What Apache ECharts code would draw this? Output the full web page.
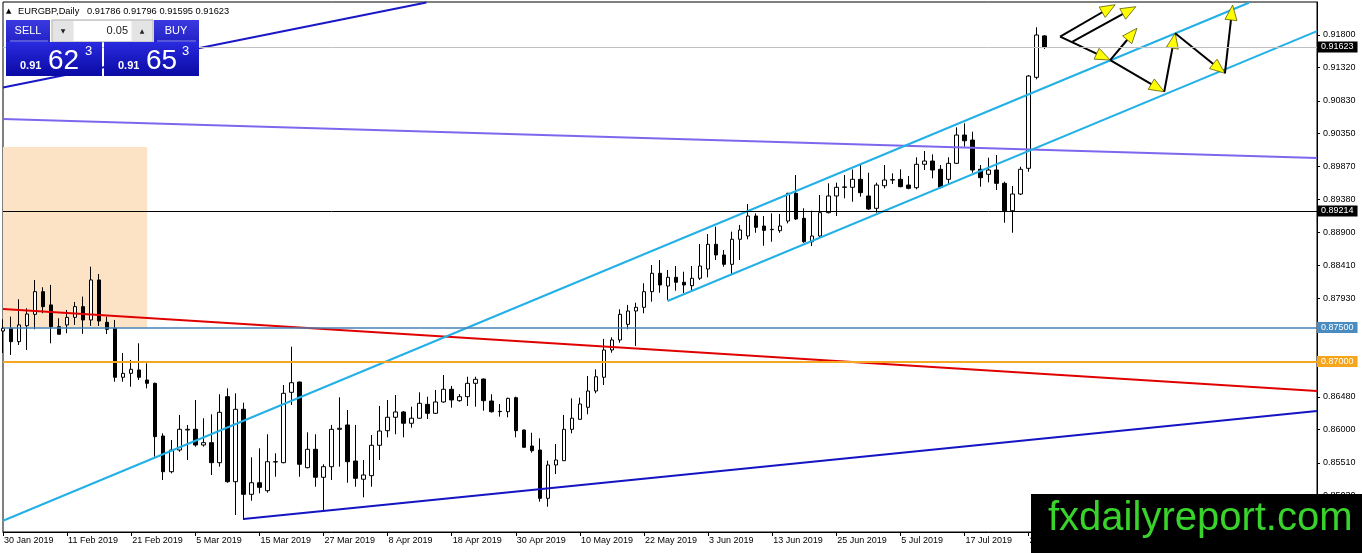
<!DOCTYPE html>
<html>
<head>
<meta charset="utf-8">
<script src="https://cdn.jsdelivr.net/npm/echarts@6/dist/echarts.min.js"></script>
<style>html,body{margin:0;padding:0;background:#fff;}#chart{width:1362px;height:553px;}</style>
</head>
<body>
<div id="chart"></div>
<script>
// ---------- DATA ----------
const dates = ['30 Jan 2019','31 Jan 2019','1 Feb 2019','4 Feb 2019','5 Feb 2019','6 Feb 2019','7 Feb 2019','8 Feb 2019','11 Feb 2019','12 Feb 2019','13 Feb 2019','14 Feb 2019','15 Feb 2019','18 Feb 2019','19 Feb 2019','20 Feb 2019','21 Feb 2019','22 Feb 2019','25 Feb 2019','26 Feb 2019','27 Feb 2019','28 Feb 2019','1 Mar 2019','4 Mar 2019','5 Mar 2019','6 Mar 2019','7 Mar 2019','8 Mar 2019','11 Mar 2019','12 Mar 2019','13 Mar 2019','14 Mar 2019','15 Mar 2019','18 Mar 2019','19 Mar 2019','20 Mar 2019','21 Mar 2019','22 Mar 2019','25 Mar 2019','26 Mar 2019','27 Mar 2019','28 Mar 2019','29 Mar 2019','1 Apr 2019','2 Apr 2019','3 Apr 2019','4 Apr 2019','5 Apr 2019','8 Apr 2019','9 Apr 2019','10 Apr 2019','11 Apr 2019','12 Apr 2019','15 Apr 2019','16 Apr 2019','17 Apr 2019','18 Apr 2019','19 Apr 2019','22 Apr 2019','23 Apr 2019','24 Apr 2019','25 Apr 2019','26 Apr 2019','29 Apr 2019','30 Apr 2019','1 May 2019','2 May 2019','3 May 2019','6 May 2019','7 May 2019','8 May 2019','9 May 2019','10 May 2019','13 May 2019','14 May 2019','15 May 2019','16 May 2019','17 May 2019','20 May 2019','21 May 2019','22 May 2019','23 May 2019','24 May 2019','27 May 2019','28 May 2019','29 May 2019','30 May 2019','31 May 2019','3 Jun 2019','4 Jun 2019','5 Jun 2019','6 Jun 2019','7 Jun 2019','10 Jun 2019','11 Jun 2019','12 Jun 2019','13 Jun 2019','14 Jun 2019','17 Jun 2019','18 Jun 2019','19 Jun 2019','20 Jun 2019','21 Jun 2019','24 Jun 2019','25 Jun 2019','26 Jun 2019','27 Jun 2019','28 Jun 2019','1 Jul 2019','2 Jul 2019','3 Jul 2019','4 Jul 2019','5 Jul 2019','8 Jul 2019','9 Jul 2019','10 Jul 2019','11 Jul 2019','12 Jul 2019','15 Jul 2019','16 Jul 2019','17 Jul 2019','18 Jul 2019','19 Jul 2019','22 Jul 2019','23 Jul 2019','24 Jul 2019','25 Jul 2019','26 Jul 2019','29 Jul 2019','30 Jul 2019','31 Jul 2019'];
const emptySlots = 34; // chart shift space on the right

const opens = [0.87449,0.87489,0.87292,0.87527,0.87694,0.88027,0.87832,0.87512,0.87538,0.87650,0.87807,0.87611,0.88199,0.87577,0.87489,0.86769,0.86827,0.86876,0.86729,0.86680,0.85906,0.85381,0.85700,0.85994,0.86004,0.85774,0.85808,0.85514,0.86484,0.85234,0.86298,0.85049,0.85219,0.85102,0.85524,0.85514,0.86548,0.86699,0.85440,0.85710,0.85299,0.85455,0.86004,0.86068,0.85538,0.85270,0.85323,0.85769,0.85984,0.86181,0.86259,0.86093,0.86167,0.86371,0.86239,0.86406,0.86592,0.86425,0.86484,0.86680,0.86743,0.86420,0.86263,0.86263,0.86469,0.85994,0.85759,0.85700,0.84990,0.85480,0.85543,0.86004,0.86151,0.86328,0.86567,0.86769,0.87170,0.87317,0.87547,0.87743,0.87797,0.88027,0.88297,0.88110,0.88238,0.88165,0.88115,0.88224,0.88360,0.88723,0.88566,0.88429,0.88797,0.88845,0.89139,0.88992,0.88938,0.88923,0.89065,0.89472,0.89105,0.88761,0.88845,0.89188,0.89433,0.89561,0.89561,0.89678,0.89433,0.89252,0.89584,0.89668,0.89678,0.89594,0.89555,0.89899,0.89947,0.89825,0.89678,0.89913,0.90329,0.90255,0.89825,0.89752,0.89815,0.89619,0.89217,0.89462,0.89840,0.91177,0.91786];
const closes = [0.87489,0.87292,0.87538,0.87699,0.88027,0.87807,0.87512,0.87401,0.87650,0.87807,0.87611,0.88199,0.87596,0.87474,0.86769,0.86827,0.86886,0.86769,0.86680,0.85896,0.85381,0.85700,0.86004,0.86004,0.85774,0.85808,0.85514,0.86254,0.85234,0.86298,0.85049,0.85219,0.85151,0.85528,0.85528,0.86533,0.86689,0.85490,0.85710,0.85299,0.85455,0.86004,0.86019,0.85528,0.85284,0.85333,0.85769,0.85979,0.86181,0.86259,0.86093,0.86167,0.86386,0.86239,0.86406,0.86592,0.86435,0.86484,0.86680,0.86739,0.86425,0.86263,0.86268,0.86459,0.85984,0.85740,0.85690,0.84990,0.85480,0.85553,0.86004,0.86167,0.86376,0.86567,0.86777,0.87170,0.87317,0.87694,0.87743,0.87797,0.88027,0.88297,0.88125,0.88238,0.88165,0.88125,0.88224,0.88404,0.88723,0.88566,0.88429,0.88797,0.88933,0.89139,0.88973,0.88928,0.88943,0.88992,0.89472,0.89095,0.88761,0.88845,0.89188,0.89433,0.89561,0.89566,0.89678,0.89482,0.89242,0.89594,0.89668,0.89673,0.89570,0.89546,0.89899,0.89947,0.89815,0.89561,0.89913,0.90329,0.90245,0.89815,0.89702,0.89815,0.89619,0.89217,0.89462,0.89825,0.91196,0.91799,0.91623];
const lows = [0.87126,0.87097,0.87244,0.87170,0.87474,0.87710,0.87268,0.87401,0.87416,0.87538,0.87407,0.87523,0.87523,0.87405,0.86704,0.86704,0.86630,0.86729,0.86606,0.85602,0.85259,0.85357,0.85675,0.85553,0.85749,0.85749,0.85332,0.85455,0.85219,0.84745,0.84671,0.84955,0.85064,0.85073,0.85308,0.85505,0.86362,0.85308,0.85431,0.85160,0.84794,0.85259,0.85455,0.85219,0.85160,0.85005,0.85160,0.85553,0.85887,0.85931,0.85887,0.86028,0.86161,0.86156,0.86229,0.86395,0.86322,0.86410,0.86347,0.86337,0.86278,0.86249,0.86190,0.86181,0.85887,0.85735,0.85661,0.84941,0.84867,0.85347,0.85538,0.85945,0.86141,0.86225,0.86533,0.86655,0.87130,0.87277,0.87474,0.87229,0.87710,0.87880,0.88012,0.87905,0.88041,0.88007,0.88051,0.88199,0.88238,0.88492,0.88394,0.88286,0.88492,0.88797,0.88893,0.88702,0.88761,0.88893,0.89031,0.89080,0.88746,0.88697,0.88825,0.89178,0.89139,0.89399,0.89349,0.89423,0.89227,0.89188,0.89546,0.89609,0.89561,0.89531,0.89531,0.89815,0.89693,0.89546,0.89609,0.89903,0.90157,0.89775,0.89570,0.89634,0.89521,0.89040,0.88893,0.89448,0.89790,0.91148,0.91595];
const highs = [0.87621,0.87660,0.87915,0.87783,0.88199,0.88092,0.88126,0.87636,0.87758,0.87876,0.87954,0.88394,0.88286,0.87660,0.87611,0.87126,0.87024,0.87268,0.86974,0.86690,0.85945,0.85847,0.86215,0.86068,0.86435,0.86167,0.86225,0.86519,0.86606,0.86533,0.86395,0.85593,0.85725,0.85931,0.85652,0.86655,0.87218,0.86705,0.85960,0.85931,0.85490,0.86068,0.86474,0.86288,0.86068,0.85553,0.85920,0.86347,0.86435,0.86508,0.86273,0.86337,0.86548,0.86484,0.86582,0.86802,0.86641,0.86523,0.86777,0.86777,0.86750,0.86519,0.86376,0.86469,0.86484,0.85999,0.85954,0.85872,0.85543,0.85788,0.86215,0.86459,0.86469,0.86788,0.86886,0.87333,0.87356,0.87768,0.87832,0.87865,0.88150,0.88419,0.88492,0.88345,0.88404,0.88320,0.88404,0.88727,0.88874,0.88982,0.88639,0.88909,0.89007,0.89315,0.89178,0.89139,0.89178,0.89168,0.89480,0.89741,0.89252,0.89217,0.89448,0.89619,0.89629,0.89741,0.89822,0.89903,0.89775,0.89629,0.89888,0.89766,0.89825,0.89726,0.90001,0.90094,0.90045,0.89888,0.90001,0.90442,0.90501,0.90378,0.89888,0.89996,0.90035,0.89643,0.89580,0.89863,0.91211,0.91912,0.91796];

// price axis tick labels
const yTicks = [0.91800,0.91320,0.90830,0.90350,0.89870,0.89380,0.88900,0.88410,0.87930,0.87450,0.86970,0.86480,0.86000,0.85510,0.85030];
const yMin = 0.84495, yMax = 0.92284;

// horizontal levels: bid line, support, round levels
const levelPrices = [0.91623, 0.89214, 0.87500, 0.87000];

// trend lines: [barIndex1, price1, barIndex2, price2]
const blueTopLine   = [0, 0.91027, 52.84, 0.92276];
const purpleLine    = [0, 0.90564, 164, 0.89991];
const redLine       = [0, 0.87772, 164, 0.86567];
const cyanUpper     = [0, 0.84661, 155.5, 0.92273];
const cyanLower     = [82.94, 0.87890, 164, 0.91857];
const blueBottom    = [30, 0.84686, 164, 0.86273];
// shaded zone [barIndex1, topPrice, barIndex2, bottomPrice]
const zoneRect = [0, 0.90153, 18, 0.87500];
// projection arrows [fromIndex, fromPrice, toIndex, toPrice]
const arrows = [
  [131.94, 0.91774, 138.81, 0.92244],
  [133.49, 0.91700, 141.39, 0.92215],
  [131.94, 0.91774, 138.19, 0.91431],
  [138.19, 0.91431, 141.52, 0.91897],
  [138.19, 0.91431, 144.93, 0.90965],
  [144.93, 0.90965, 146.30, 0.91824],
  [146.30, 0.91824, 152.51, 0.91236],
  [152.51, 0.91236, 153.47, 0.92239]
];

// ---------- CHART ----------
const FONT = '"Liberation Sans", Arial, sans-serif';
const categories = dates.concat(new Array(emptySlots).fill(''));
const candleData = opens.map((o, i) => [o, closes[i], lows[i], highs[i]]);

function trend(name, seg, color, width) {
  return {
    name, type: 'line', xAxisIndex: 1, yAxisIndex: 0,
    data: [[seg[0], seg[1]], [seg[2], seg[3]]],
    symbol: 'none', silent: true, z: 3,
    lineStyle: { color, width }
  };
}
function levelLabel(val, bg) {
  return {
    show: true, position: 'end', distance: 0,
    formatter: () => val.toFixed(5),
    color: '#fff', backgroundColor: bg, padding: [1, 4, 1, 4],
    fontSize: 9, lineHeight: 9, fontFamily: FONT
  };
}

const chart = echarts.init(document.getElementById('chart'), null, { renderer: 'canvas' });

const blueGrad = () => new echarts.graphic.LinearGradient(0, 0, 0, 1, [
  { offset: 0, color: '#2a2ae0' }, { offset: 1, color: '#0a0aa4' }]);
const btnGrad = () => new echarts.graphic.LinearGradient(0, 0, 0, 1, [
  { offset: 0, color: '#3a3ae0' }, { offset: 1, color: '#2222c6' }]);

const option = {
  animation: false,
  backgroundColor: '#ffffff',
  grid: {
    left: 3, right: 45, top: 2, bottom: 21,
    show: true, borderColor: '#000', borderWidth: 1,
    containLabel: false, outerBoundsMode: 'none'
  },
  xAxis: [{
    type: 'category', data: categories, boundaryGap: false,
    axisLine: { show: true, onZero: false, lineStyle: { color: '#000', width: 1 } },
    axisTick: { show: true, interval: 7, length: 4, lineStyle: { color: '#000' } },
    axisLabel: { interval: 7, align: 'left', fontSize: 9, color: '#000', margin: 4, fontFamily: FONT, padding: [0, 0, 0, 1] },
    splitLine: { show: false }
  }, {
    type: 'value', min: 0, max: categories.length - 1, show: false,
    axisLine: { onZero: false }
  }],
  yAxis: [{
    type: 'value', position: 'right', min: yMin, max: yMax, scale: true,
    splitLine: { show: false },
    axisLine: { show: true, onZero: false, lineStyle: { color: '#000', width: 1 } },
    axisTick: { show: true, inside: false, length: 3, customValues: yTicks, lineStyle: { color: '#000' } },
    axisLabel: { customValues: yTicks, formatter: v => Number(v).toFixed(5), fontSize: 9, color: '#000', margin: 6, fontFamily: FONT }
  }],
  series: [
    {
      name: 'zone', type: 'custom', xAxisIndex: 1, yAxisIndex: 0, z: 1, silent: true,
      data: [zoneRect], encode: { x: [0, 2], y: [1, 3] },
      renderItem: (params, api) => {
        const a = api.coord([api.value(0), api.value(1)]);
        const b = api.coord([api.value(2), api.value(3)]);
        return { type: 'rect', shape: { x: a[0], y: a[1], width: b[0] - a[0], height: b[1] - a[1] },
                 style: { fill: '#fde3c6' } };
      }
    },
    {
      name: 'EURGBP', type: 'candlestick', data: candleData, z: 2, barWidth: 4, silent: true,
      itemStyle: { color: '#ffffff', color0: '#000000', borderColor: '#000000', borderColor0: '#000000', borderWidth: 1 }
    },
    trend('blueTop', blueTopLine, '#1818c8', 2),
    Object.assign(trend('purple', purpleLine, '#7b68ee', 2), {
      markLine: {
        symbol: 'none', silent: true, animation: false, precision: 5,
        data: [
          { yAxis: levelPrices[0], lineStyle: { color: '#c0c0c0', width: 1, type: 'solid' }, label: levelLabel(levelPrices[0], '#000000') },
          { yAxis: levelPrices[1], lineStyle: { color: '#000000', width: 1, type: 'solid' }, label: levelLabel(levelPrices[1], '#000000') },
          { yAxis: levelPrices[2], lineStyle: { color: '#4682b4', width: 1.5, type: 'solid' }, label: levelLabel(levelPrices[2], '#4a8cc0') },
          { yAxis: levelPrices[3], lineStyle: { color: '#f5a623', width: 2, type: 'solid' }, label: levelLabel(levelPrices[3], '#f7a51c') }
        ]
      }
    }),
    trend('red', redLine, '#e10000', 2),
    trend('cyanUpper', cyanUpper, '#22b0e6', 2),
    trend('cyanLower', cyanLower, '#22b0e6', 2),
    trend('blueBottom', blueBottom, '#1414c4', 2),
    {
      name: 'arrows', type: 'custom', xAxisIndex: 1, yAxisIndex: 0, z: 4, silent: true,
      data: arrows, encode: { x: [0, 2], y: [1, 3] },
      renderItem: (params, api) => {
        const p1 = api.coord([api.value(0), api.value(1)]);
        const p2 = api.coord([api.value(2), api.value(3)]);
        const dx = p2[0] - p1[0], dy = p2[1] - p1[1];
        const len = Math.hypot(dx, dy) || 1;
        const ux = dx / len, uy = dy / len;
        const hl = 15, hw = 6;
        const bx = p2[0] - ux * hl, by = p2[1] - uy * hl;
        return {
          type: 'group', children: [
            { type: 'line', shape: { x1: p1[0], y1: p1[1], x2: bx + ux * 4, y2: by + uy * 4 },
              style: { stroke: '#000', lineWidth: 2 } },
            { type: 'polygon', shape: { points: [[p2[0], p2[1]], [bx - uy * hw, by + ux * hw], [bx + uy * hw, by - ux * hw]] },
              style: { fill: '#ffff00', stroke: '#5a5a00', lineWidth: 0.8 } }
          ]
        };
      }
    }
  ],
  graphic: [
    // header
    { type: 'text', x: 6, y: 11, z: 100, style: { text: '▲', fontSize: 7, fill: '#000', verticalAlign: 'middle', fontFamily: '"DejaVu Sans", sans-serif' } },
    { type: 'text', x: 18, y: 11, z: 100, style: { text: 'EURGBP,Daily', fontSize: 9.3, fill: '#000', verticalAlign: 'middle', fontFamily: FONT } },
    { type: 'text', x: 87, y: 11, z: 100, style: { text: '0.91786 0.91796 0.91595 0.91623', fontSize: 9.3, fill: '#000', verticalAlign: 'middle', fontFamily: FONT } },
    // one-click trading panel
    { type: 'rect', z: 100, shape: { x: 6, y: 20, width: 44, height: 22 }, style: { fill: btnGrad() } },
    { type: 'line', z: 101, shape: { x1: 10, y1: 41, x2: 48, y2: 41 }, style: { stroke: '#8a8ae8', lineWidth: 1 } },
    { type: 'text', x: 28, y: 31, z: 101, style: { text: 'SELL', fontSize: 11, fill: '#fff', align: 'center', verticalAlign: 'middle', fontFamily: FONT } },
    { type: 'rect', z: 100, shape: { x: 52, y: 20, width: 101, height: 22 }, style: { fill: '#f2f2f2', stroke: '#a8a8a8', lineWidth: 1 } },
    { type: 'rect', z: 101, shape: { x: 53, y: 21, width: 20, height: 20 }, style: { fill: '#e4e4e4' } },
    { type: 'rect', z: 101, shape: { x: 74, y: 21, width: 57, height: 20 }, style: { fill: '#ffffff' } },
    { type: 'rect', z: 101, shape: { x: 132, y: 21, width: 20, height: 20 }, style: { fill: '#e4e4e4' } },
    { type: 'text', x: 63, y: 31, z: 102, style: { text: '▼', fontSize: 6, fill: '#222', align: 'center', verticalAlign: 'middle', fontFamily: '"DejaVu Sans", sans-serif' } },
    { type: 'text', x: 142, y: 31, z: 102, style: { text: '▲', fontSize: 6, fill: '#222', align: 'center', verticalAlign: 'middle', fontFamily: '"DejaVu Sans", sans-serif' } },
    { type: 'text', x: 128, y: 31, z: 102, style: { text: '0.05', fontSize: 11, fill: '#222', align: 'right', verticalAlign: 'middle', fontFamily: FONT } },
    { type: 'rect', z: 100, shape: { x: 154, y: 20, width: 45, height: 22 }, style: { fill: btnGrad() } },
    { type: 'line', z: 101, shape: { x1: 157, y1: 41, x2: 196, y2: 41 }, style: { stroke: '#8a8ae8', lineWidth: 1 } },
    { type: 'text', x: 176, y: 31, z: 101, style: { text: 'BUY', fontSize: 11, fill: '#fff', align: 'center', verticalAlign: 'middle', fontFamily: FONT } },
    { type: 'rect', z: 100, shape: { x: 6, y: 42, width: 96, height: 34 }, style: { fill: blueGrad() } },
    { type: 'rect', z: 100, shape: { x: 104, y: 42, width: 95, height: 34 }, style: { fill: blueGrad() } },
    { type: 'text', x: 20, y: 66, z: 101, style: { text: '0.91', fontSize: 11, fontWeight: 'bold', fill: '#fff', verticalAlign: 'middle', fontFamily: FONT } },
    { type: 'text', x: 48, y: 61, z: 101, style: { text: '62', fontSize: 28, fill: '#fff', verticalAlign: 'middle', fontFamily: FONT } },
    { type: 'text', x: 85, y: 51, z: 101, style: { text: '3', fontSize: 13, fill: '#fff', verticalAlign: 'middle', fontFamily: FONT } },
    { type: 'text', x: 118, y: 66, z: 101, style: { text: '0.91', fontSize: 11, fontWeight: 'bold', fill: '#fff', verticalAlign: 'middle', fontFamily: FONT } },
    { type: 'text', x: 146, y: 61, z: 101, style: { text: '65', fontSize: 28, fill: '#fff', verticalAlign: 'middle', fontFamily: FONT } },
    { type: 'text', x: 182, y: 51, z: 101, style: { text: '3', fontSize: 13, fill: '#fff', verticalAlign: 'middle', fontFamily: FONT } },
    // watermark box
    { type: 'rect', z: 100, shape: { x: 1031, y: 494, width: 331, height: 59 }, style: { fill: '#000' } },
    { type: 'text', x: 1048, y: 519, z: 101, style: { text: 'fxdailyreport.com', fontSize: 40, fill: '#38d42c', verticalAlign: 'middle', fontFamily: FONT } }
  ]
};
chart.setOption(option);
</script>
</body>
</html>
